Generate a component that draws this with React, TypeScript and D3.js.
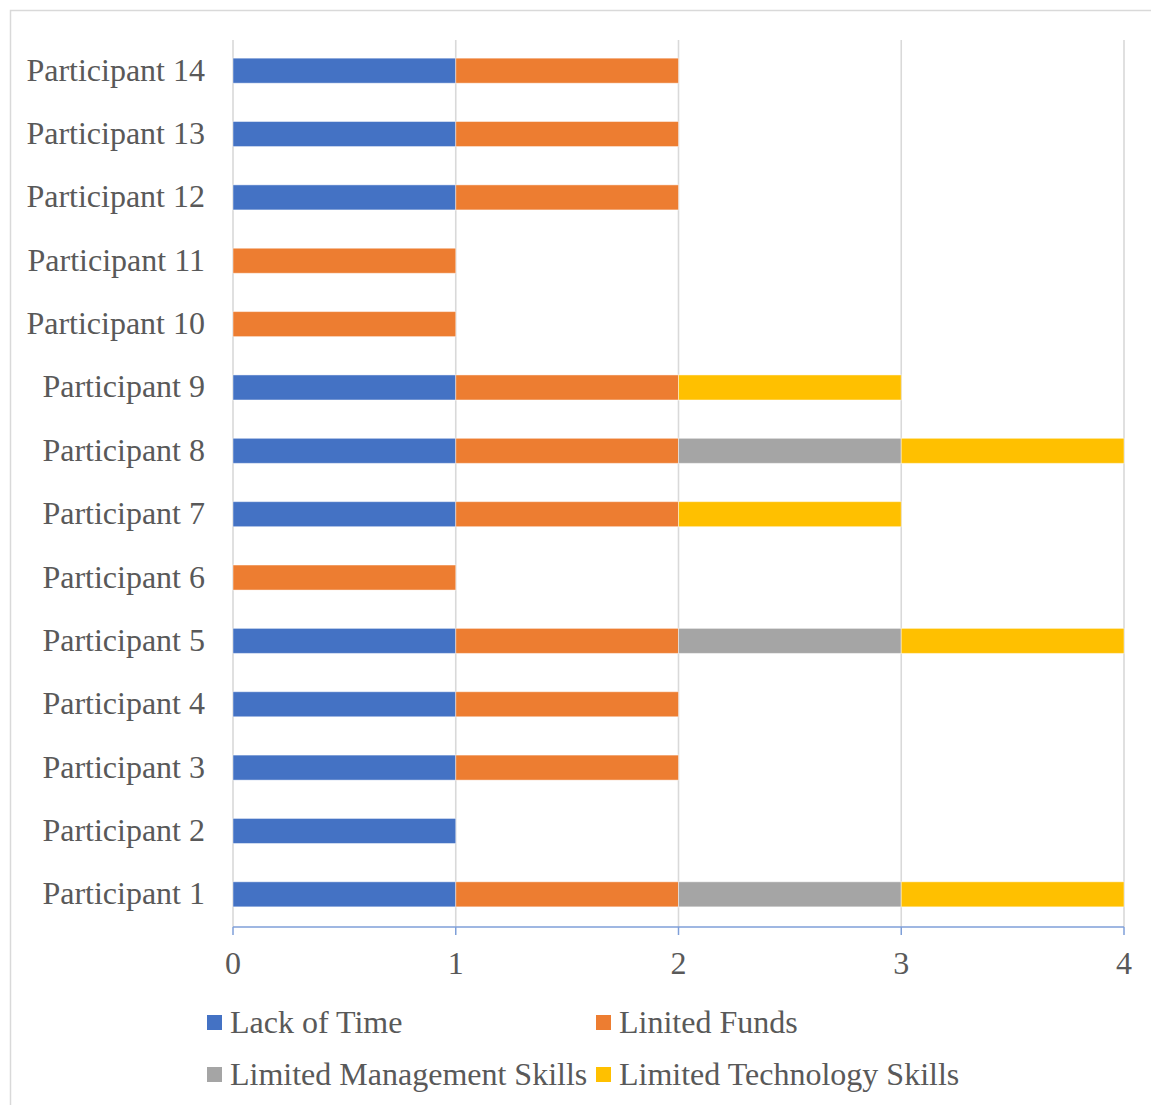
import React from "react";
import * as d3 from "d3";

const categories = [
  "Participant 1", "Participant 2", "Participant 3", "Participant 4", "Participant 5",
  "Participant 6", "Participant 7", "Participant 8", "Participant 9", "Participant 10",
  "Participant 11", "Participant 12", "Participant 13", "Participant 14",
];
const lackOfTime = [1, 1, 1, 1, 1, 0, 1, 1, 1, 0, 0, 1, 1, 1];
const limitedFunds = [1, 0, 1, 1, 1, 1, 1, 1, 1, 1, 1, 1, 1, 1];
const limitedManagement = [1, 0, 0, 0, 1, 0, 0, 1, 0, 0, 0, 0, 0, 0];
const limitedTechnology = [1, 0, 0, 0, 1, 0, 1, 1, 1, 0, 0, 0, 0, 0];
const seriesNames = ["Lack of Time", "Linited Funds", "Limited Management Skills", "Limited Technology Skills"];
const seriesColors = ["#4472C4", "#ED7D31", "#A5A5A5", "#FFC000"];
const xTicks = [0, 1, 2, 3, 4];

const W = 1151;
const H = 1105;
const FONT = "'Liberation Serif', 'Times New Roman', serif";
const TEXT = "#595959";
const FS = 32;

export default function App() {
  const series = [lackOfTime, limitedFunds, limitedManagement, limitedTechnology];
  const x = d3.scaleLinear().domain([0, 4]).range([233, 1124]);
  const y = d3
    .scaleBand<string>()
    .domain([...categories].reverse())
    .range([39, 926])
    .paddingInner(0.605)
    .paddingOuter(0.3025);

  const rows = categories.map((c, i) => {
    const o: any = { cat: c };
    series.forEach((s, j) => (o["s" + j] = s[i]));
    return o;
  });
  const stack = d3.stack().keys(["s0", "s1", "s2", "s3"])(rows);

  const plotBottom = 927;
  const legend = [
    { x: 207, y: 1015, tx: 230, ty: 1033 },
    { x: 596, y: 1015, tx: 619, ty: 1033 },
    { x: 207, y: 1067, tx: 230, ty: 1085 },
    { x: 596, y: 1067, tx: 619, ty: 1085 },
  ];

  return (
    <svg
      width={W}
      height={H}
      style={{ position: "absolute", left: 0, top: 0, background: "#fff" }}
      fontFamily={FONT}
    >
      <rect x={0} y={0} width={W} height={H} fill="#fff" />
      <rect x={10.5} y={10.5} width={W + 20} height={H + 20} fill="none" stroke="#d9d9d9" strokeWidth={1.5} />
      {xTicks.map((t) => (
        <line key={"g" + t} x1={x(t)} x2={x(t)} y1={40} y2={plotBottom} stroke="#d9d9d9" strokeWidth={1.6} />
      ))}
      {stack.map((layer, j) => (
        <g key={"l" + j} fill={seriesColors[j]}>
          {layer.map((d, i) =>
            d[1] - d[0] > 0 ? (
              <rect
                key={i}
                x={x(d[0])}
                width={x(d[1]) - x(d[0])}
                y={y(categories[i])}
                height={y.bandwidth()}
                stroke="#ffffff"
                strokeOpacity={0.45}
                strokeWidth={1}
              />
            ) : null
          )}
        </g>
      ))}
      <line x1={x(0)} x2={x(4)} y1={plotBottom} y2={plotBottom} stroke="#7f9fd8" strokeWidth={1.5} />
      {xTicks.map((t) => (
        <g key={"t" + t}>
          <line x1={x(t)} x2={x(t)} y1={plotBottom} y2={plotBottom + 8} stroke="#7f9fd8" strokeWidth={1.5} />
          <text x={x(t)} y={974} textAnchor="middle" fontSize={FS} fill={TEXT}>
            {t}
          </text>
        </g>
      ))}
      {categories.map((c) => (
        <text key={c} x={205} y={(y(c) as number) + y.bandwidth() / 2 + 10} textAnchor="end" fontSize={FS} fill={TEXT}>
          {c}
        </text>
      ))}
      {seriesNames.map((n, j) => (
        <g key={n}>
          <rect x={legend[j].x} y={legend[j].y} width={15} height={15} fill={seriesColors[j]} />
          <text x={legend[j].tx} y={legend[j].ty} fontSize={FS} fill={TEXT}>
            {n}
          </text>
        </g>
      ))}
    </svg>
  );
}
